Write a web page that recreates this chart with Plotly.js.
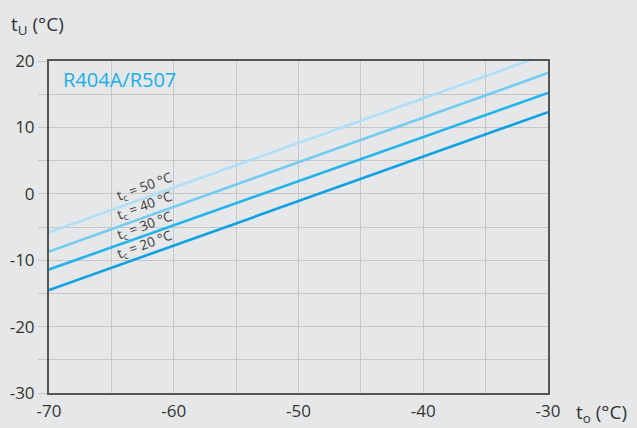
<!DOCTYPE html>
<html>
<head>
<meta charset="utf-8">
<script src="https://cdn.plot.ly/plotly-3.0.1.min.js"></script>
<style>html,body{margin:0;padding:0;background:#e6e7e9;}#chart{width:637px;height:428px;}</style>
</head>
<body>
<div id="chart"></div>
<script>
const toValues = [-70, -30];
const tc50 = [-5.8, 21.1];
const tc40 = [-8.7, 18.2];
const tc30 = [-11.4, 15.2];
const tc20 = [-14.5, 12.3];
const seriesNames = ["t<sub>c</sub> = 50 °C", "t<sub>c</sub> = 40 °C", "t<sub>c</sub> = 30 °C", "t<sub>c</sub> = 20 °C"];
const labelX = [-62.3, -62.3, -62.3, -62.3];
const labelY = [1.0, -1.8, -4.8, -7.7];
const xTickVals = [-70, -60, -50, -40, -30];
const xTickText = ["-70", "-60", "-50", "-40", "-30"];
const yTickVals = [-30, -20, -10, 0, 10, 20];
const yTickText = ["-30", "-20", "-10", "0", "10", "20"];

const colors = ["#aedff7", "#72cbf0", "#22b4ea", "#0aa2e2"];
const ys = [tc50, tc40, tc30, tc20];
const traces = ys.map((y, i) => ({
  x: toValues, y: y, type: "scatter", mode: "lines",
  line: {color: colors[i], width: 2.6}, showlegend: false, hoverinfo: "skip"
}));

const font = {family: "Open Sans, Noto Sans, sans-serif", color: "#333333"};
const annotations = seriesNames.map((t, i) => ({
  x: labelX[i], y: labelY[i], xref: "x", yref: "y", text: t, showarrow: false,
  textangle: -20, font: Object.assign({}, font, {size: 13.5, color: "#3a3a3a"})
}));
annotations.push({x: 0.025, y: 0.943, xref: "paper", yref: "paper", xanchor: "left", yanchor: "middle",
  text: "R404A/R507", showarrow: false, font: Object.assign({}, font, {size: 20, color: "#1aaee6"})});
annotations.push({x: 0, y: 1, xref: "paper", yref: "paper", xanchor: "left", yanchor: "bottom",
  xshift: -40, yshift: 20, text: "t<sub>U</sub> (°C)", showarrow: false, font: Object.assign({}, font, {size: 19})});
annotations.push({x: 1, y: 0, xref: "paper", yref: "paper", xanchor: "left", yanchor: "top",
  xshift: 26, yshift: -4, text: "t<sub>o</sub> (°C)", showarrow: false, font: Object.assign({}, font, {size: 19})});

const grid = "#c6c7c9";
const layout = {
  width: 637, height: 428,
  margin: {l: 49, r: 89, t: 61, b: 35},
  paper_bgcolor: "#e6e7e9", plot_bgcolor: "#e6e7e9",
  font: font,
  xaxis: {range: [-70, -30], tickmode: "array", tickvals: xTickVals, ticktext: xTickText,
    showgrid: true, gridcolor: grid, gridwidth: 1, zeroline: false,
    minor: {dtick: 5, tick0: -70, showgrid: true, gridcolor: grid, gridwidth: 1, ticks: ""},
    showline: true, linecolor: "#555555", linewidth: 2, mirror: true,
    ticks: "", tickfont: {size: 17, color: "#333333"}, ticklabelstandoff: 2},
  yaxis: {range: [-30, 20], tickmode: "array", tickvals: yTickVals, ticktext: yTickText,
    showgrid: true, gridcolor: grid, gridwidth: 1, zeroline: false,
    minor: {dtick: 5, tick0: -30, showgrid: true, gridcolor: grid, gridwidth: 1,
      ticks: "outside", ticklen: 9, tickcolor: grid, tickwidth: 1},
    showline: true, linecolor: "#555555", linewidth: 2, mirror: true,
    ticks: "outside", ticklen: 9, tickcolor: grid, tickwidth: 1,
    tickfont: {size: 17, color: "#333333"}},
  annotations: annotations
};
Plotly.newPlot("chart", traces, layout, {displayModeBar: false, staticPlot: true});
</script>
</body>
</html>
